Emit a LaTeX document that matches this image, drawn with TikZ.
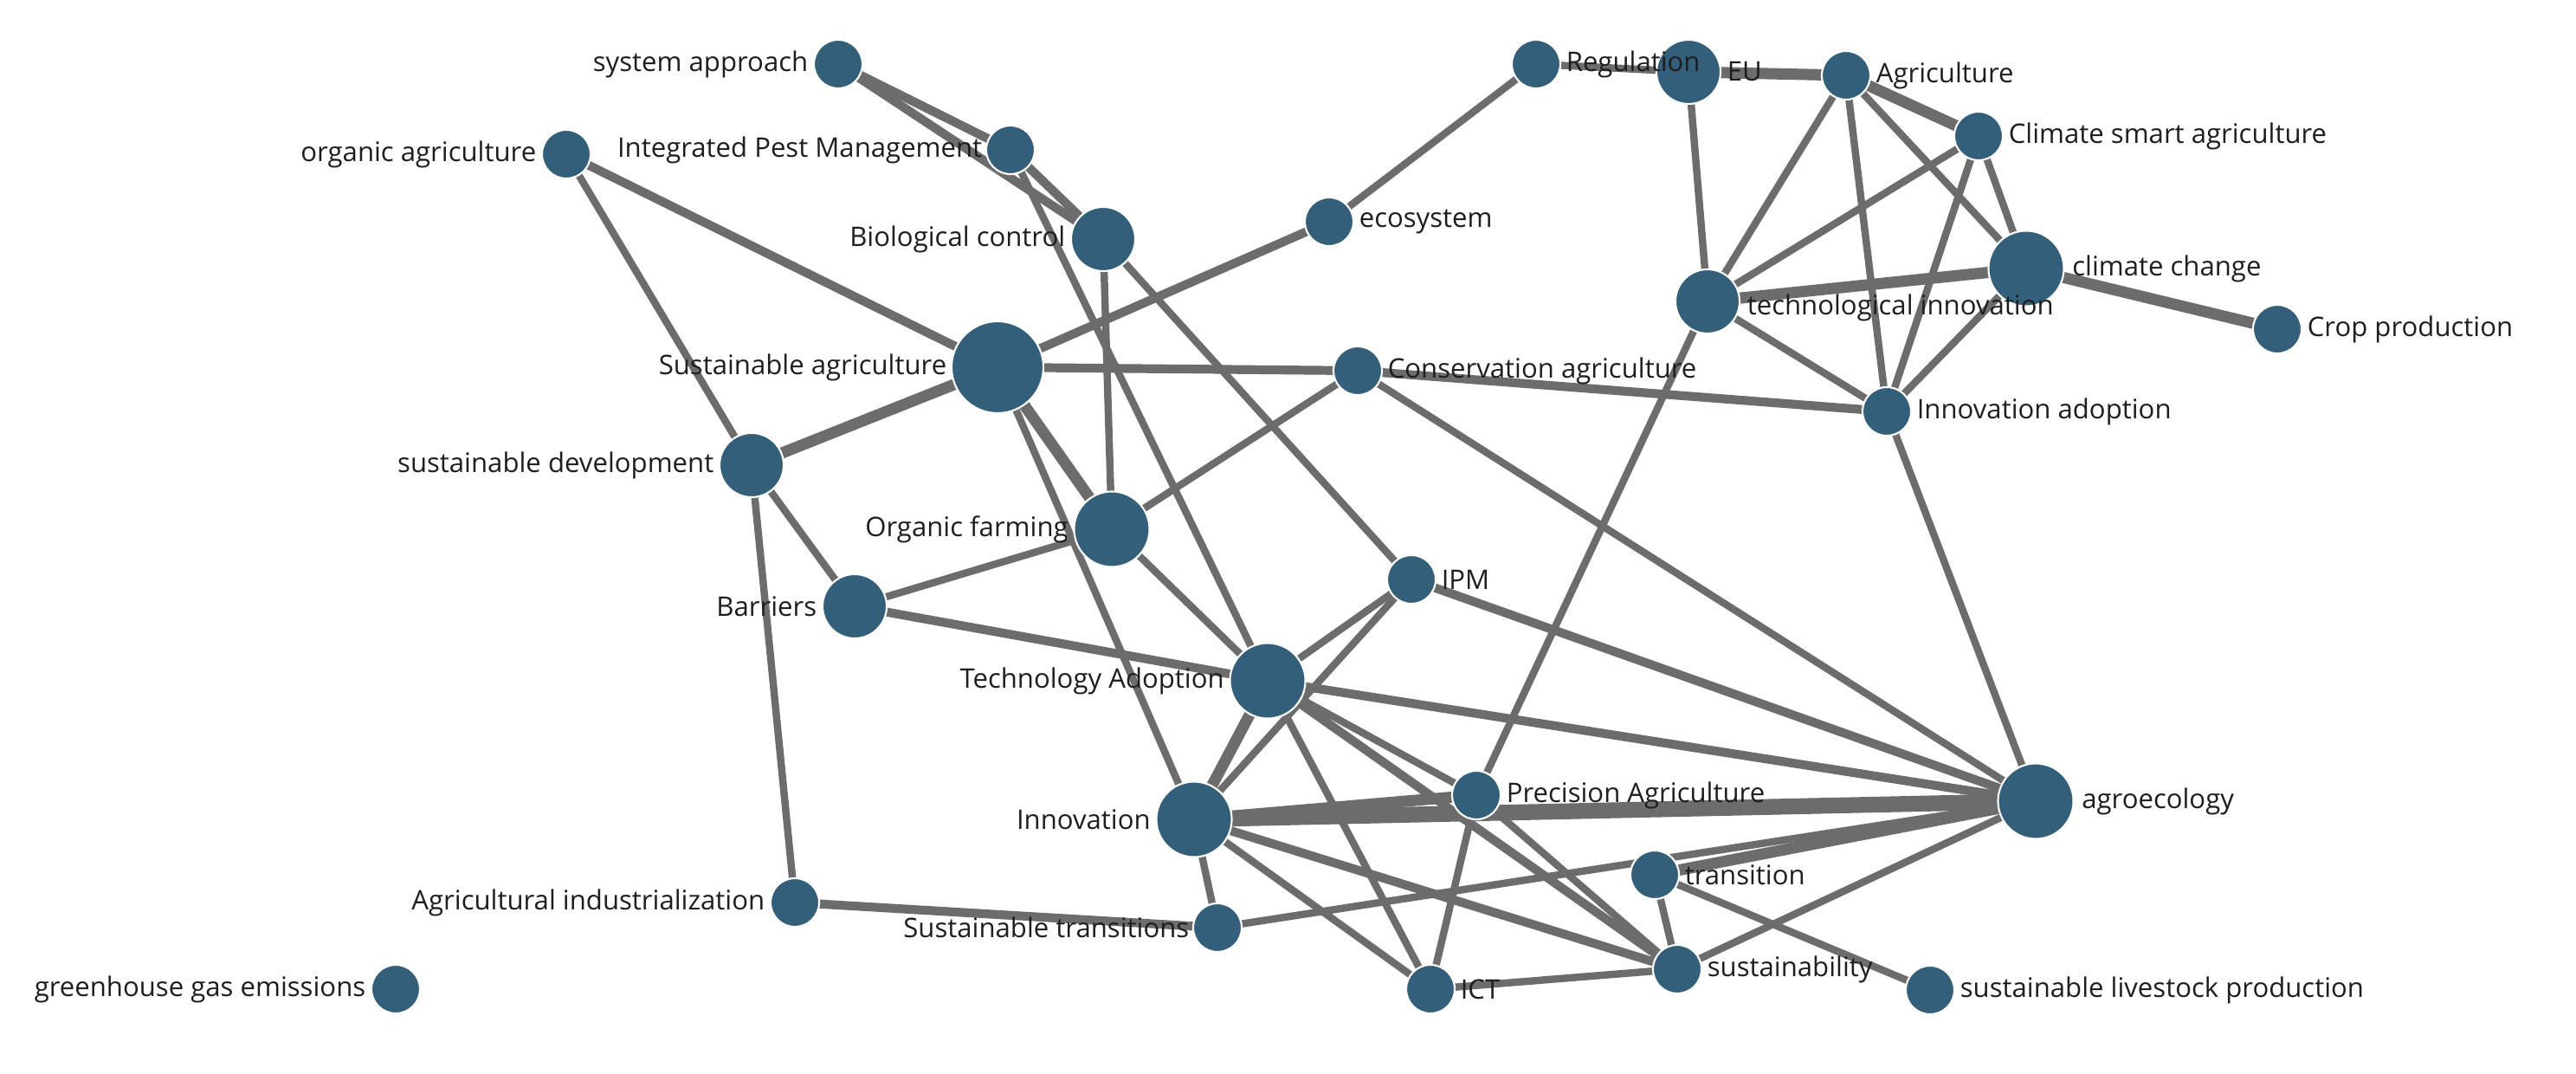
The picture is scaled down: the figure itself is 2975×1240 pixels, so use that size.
\documentclass[tikz,border=0pt]{standalone}
\usepackage{fontspec}
\setmainfont{Open Sans}
\begin{document}
\begin{tikzpicture}[x=0.01cm, y=-0.01cm,
  every node/.style={font=\fontsize{8.85pt}{10pt}\selectfont},
  dot/.style={circle, inner sep=0pt, fill=nodeblue, draw=white, line width=0.6pt},
  rA/.style={dot, minimum size=0.56cm},
  rB/.style={dot, minimum size=0.74cm},
  rC/.style={dot, minimum size=0.87cm},
  rD/.style={dot, minimum size=1.06cm},
  lbl/.style={inner sep=0pt, text=labeltext},
  lblL/.style={lbl, anchor=east},
  lblR/.style={lbl, anchor=west},
  edge/.style={draw=edgegray, line width=2.4pt},
  emed/.style={draw=edgegray, line width=2.9pt},
  ethick/.style={draw=edgegray, line width=3.7pt},
  evthick/.style={draw=edgegray, line width=5.2pt}
]
\definecolor{nodeblue}{RGB}{51,95,122}
\definecolor{edgegray}{RGB}{108,108,108}
\definecolor{labeltext}{RGB}{30,30,30}
\useasboundingbox (0,0) rectangle (2975,1240);
\fill[white] (0,0) rectangle (2975,1240);

% node coordinates
\coordinate (sysapp) at (968,74);
\coordinate (orgagri) at (654,178);
\coordinate (intpm) at (1167,173);
\coordinate (bioctrl) at (1274,276);
\coordinate (ecosys) at (1535,256);
\coordinate (regul) at (1774,74);
\coordinate (eu) at (1950,83);
\coordinate (agri) at (2132,87);
\coordinate (csa) at (2285,157);
\coordinate (climch) at (2340,310);
\coordinate (techinn) at (1972,348);
\coordinate (crop) at (2630,380);
\coordinate (susagri) at (1152,424);
\coordinate (consagri) at (1568,428);
\coordinate (innadopt) at (2179,475);
\coordinate (susdev) at (868,537);
\coordinate (orgfarm) at (1284,611);
\coordinate (barriers) at (987,700);
\coordinate (ipm) at (1630,669);
\coordinate (techad) at (1464,786);
\coordinate (agroeco) at (2351,925);
\coordinate (precag) at (1705,918);
\coordinate (innov) at (1379,946);
\coordinate (transition) at (1911,1010);
\coordinate (agind) at (918,1042);
\coordinate (sustrans) at (1406,1071);
\coordinate (ghg) at (457,1142);
\coordinate (ict) at (1652,1142);
\coordinate (sustain) at (1937,1119);
\coordinate (slp) at (2229,1143);

% edges
\draw[emed] (sysapp) -- (intpm);
\draw[emed] (sysapp) -- (bioctrl);
\draw[emed] (intpm) -- (bioctrl);
\draw[edge] (intpm) -- (techad);
\draw[emed] (orgagri) -- (susagri);
\draw[edge] (orgagri) -- (susdev);
\draw[ethick] (susagri) -- (susdev);
\draw[ethick] (susagri) -- (orgfarm);
\draw[edge] (susagri) -- (innov);
\draw[emed] (susagri) -- (ecosys);
\draw[emed] (susagri) -- (consagri);
\draw[edge] (ecosys) -- (regul);
\draw[edge] (bioctrl) -- (orgfarm);
\draw[edge] (bioctrl) -- (ipm);
\draw[edge] (consagri) -- (orgfarm);
\draw[emed] (consagri) -- (innadopt);
\draw[edge] (consagri) -- (agroeco);
\draw[edge] (susdev) -- (barriers);
\draw[edge] (susdev) -- (agind);
\draw[edge] (barriers) -- (orgfarm);
\draw[emed] (barriers) -- (techad);
\draw[edge] (orgfarm) -- (techad);
\draw[edge] (ipm) -- (techad);
\draw[edge] (ipm) -- (innov);
\draw[emed] (ipm) -- (agroeco);
\draw[ethick] (techad) -- (innov);
\draw[emed] (techad) -- (agroeco);
\draw[edge] (techad) -- (precag);
\draw[emed] (techad) -- (sustain);
\draw[edge] (techad) -- (ict);
\draw[ethick] (innov) -- (precag);
\draw[evthick] (innov) -- (agroeco);
\draw[emed] (innov) -- (sustain);
\draw[edge] (innov) -- (ict);
\draw[edge] (innov) -- (sustrans);
\draw[edge] (precag) -- (ict);
\draw[edge] (precag) -- (sustain);
\draw[edge] (precag) -- (techinn);
\draw[emed] (agind) -- (sustrans);
\draw[edge] (sustrans) -- (agroeco);
\draw[ethick] (transition) -- (agroeco);
\draw[edge] (transition) -- (sustain);
\draw[edge] (transition) -- (slp);
\draw[edge] (sustain) -- (agroeco);
\draw[edge] (sustain) -- (ict);
\draw[edge] (innadopt) -- (agroeco);
\draw[edge] (regul) -- (eu);
\draw[ethick] (eu) -- (agri);
\draw[edge] (eu) -- (techinn);
\draw[edge] (agri) -- (techinn);
\draw[edge] (agri) -- (innadopt);
\draw[edge] (agri) -- (climch);
\draw[ethick] (agri) -- (csa);
\draw[edge] (csa) -- (techinn);
\draw[edge] (csa) -- (innadopt);
\draw[edge] (csa) -- (climch);
\draw[ethick] (techinn) -- (climch);
\draw[edge] (techinn) -- (innadopt);
\draw[edge] (climch) -- (innadopt);
\draw[ethick] (climch) -- (crop);

% nodes
\node[rA] (n-sysapp) at (sysapp) {};
\node[rA] (n-orgagri) at (orgagri) {};
\node[rA] (n-intpm) at (intpm) {};
\node[rB] (n-bioctrl) at (bioctrl) {};
\node[rA] (n-ecosys) at (ecosys) {};
\node[rA] (n-regul) at (regul) {};
\node[rB] (n-eu) at (eu) {};
\node[rA] (n-agri) at (agri) {};
\node[rA] (n-csa) at (csa) {};
\node[rC] (n-climch) at (climch) {};
\node[rB] (n-techinn) at (techinn) {};
\node[rA] (n-crop) at (crop) {};
\node[rD] (n-susagri) at (susagri) {};
\node[rA] (n-consagri) at (consagri) {};
\node[rA] (n-innadopt) at (innadopt) {};
\node[rB] (n-susdev) at (susdev) {};
\node[rC] (n-orgfarm) at (orgfarm) {};
\node[rB] (n-barriers) at (barriers) {};
\node[rA] (n-ipm) at (ipm) {};
\node[rC] (n-techad) at (techad) {};
\node[rC] (n-agroeco) at (agroeco) {};
\node[rA] (n-precag) at (precag) {};
\node[rC] (n-innov) at (innov) {};
\node[rA] (n-transition) at (transition) {};
\node[rA] (n-agind) at (agind) {};
\node[rA] (n-sustrans) at (sustrans) {};
\node[rA] (n-ghg) at (ghg) {};
\node[rA] (n-ict) at (ict) {};
\node[rA] (n-sustain) at (sustain) {};
\node[rA] (n-slp) at (slp) {};

% labels
\node[lblL] (l-sysapp) at ([xshift=-0.05cm]n-sysapp.west) {system approach};
\node[lblL] (l-orgagri) at ([xshift=-0.05cm]n-orgagri.west) {organic agriculture};
\node[lblL] (l-intpm) at ([xshift=-0.03cm]n-intpm.west) {Integrated Pest Management};
\node[lblL] (l-bioctrl) at ([xshift=-0.05cm]n-bioctrl.west) {Biological control};
\node[lblL] (l-susagri) at ([xshift=-0.04cm]n-susagri.west) {Sustainable agriculture};
\node[lblL] (l-susdev) at ([xshift=-0.05cm]n-susdev.west) {sustainable development};
\node[lblL] (l-orgfarm) at ([xshift=-0.05cm]n-orgfarm.west) {Organic farming};
\node[lblL] (l-barriers) at ([xshift=-0.05cm]n-barriers.west) {Barriers};
\node[lblL] (l-techad) at ([xshift=-0.05cm]n-techad.west) {Technology Adoption};
\node[lblL] (l-innov) at ([xshift=-0.05cm]n-innov.west) {Innovation};
\node[lblL] (l-agind) at ([xshift=-0.05cm]n-agind.west) {Agricultural industrialization};
\node[lblL] (l-sustrans) at ([xshift=-0.03cm]n-sustrans.west) {Sustainable transitions};
\node[lblL] (l-ghg) at ([xshift=-0.05cm]n-ghg.west) {greenhouse gas emissions};
\node[lblR] (l-ecosys) at ([xshift=0.05cm]n-ecosys.east) {ecosystem};
\node[lblR] (l-regul) at ([xshift=0.05cm]n-regul.east) {Regulation};
\node[lblR] (l-eu) at ([xshift=0.06cm]n-eu.east) {EU};
\node[lblR] (l-agri) at ([xshift=0.05cm]n-agri.east) {Agriculture};
\node[lblR] (l-csa) at ([xshift=0.05cm]n-csa.east) {Climate smart agriculture};
\node[lblR] (l-climch) at ([xshift=0.08cm]n-climch.east) {climate change};
\node[lblR] (l-techinn) at ([xshift=0.07cm,yshift=-0.07cm]n-techinn.east) {technological innovation};
\node[lblR] (l-crop) at ([xshift=0.05cm]n-crop.east) {Crop production};
\node[lblR] (l-consagri) at ([xshift=0.05cm]n-consagri.east) {Conservation agriculture};
\node[lblR] (l-innadopt) at ([xshift=0.05cm]n-innadopt.east) {Innovation adoption};
\node[lblR] (l-ipm) at ([xshift=0.05cm]n-ipm.east) {IPM};
\node[lblR] (l-agroeco) at ([xshift=0.08cm]n-agroeco.east) {agroecology};
\node[lblR] (l-precag) at ([xshift=0.05cm]n-precag.east) {Precision Agriculture};
\node[lblR] (l-transition) at ([xshift=0.05cm]n-transition.east) {transition};
\node[lblR] (l-ict) at ([xshift=0.05cm]n-ict.east) {ICT};
\node[lblR] (l-sustain) at ([xshift=0.05cm]n-sustain.east) {sustainability};
\node[lblR] (l-slp) at ([xshift=0.05cm]n-slp.east) {sustainable livestock production};
\end{tikzpicture}
\end{document}
